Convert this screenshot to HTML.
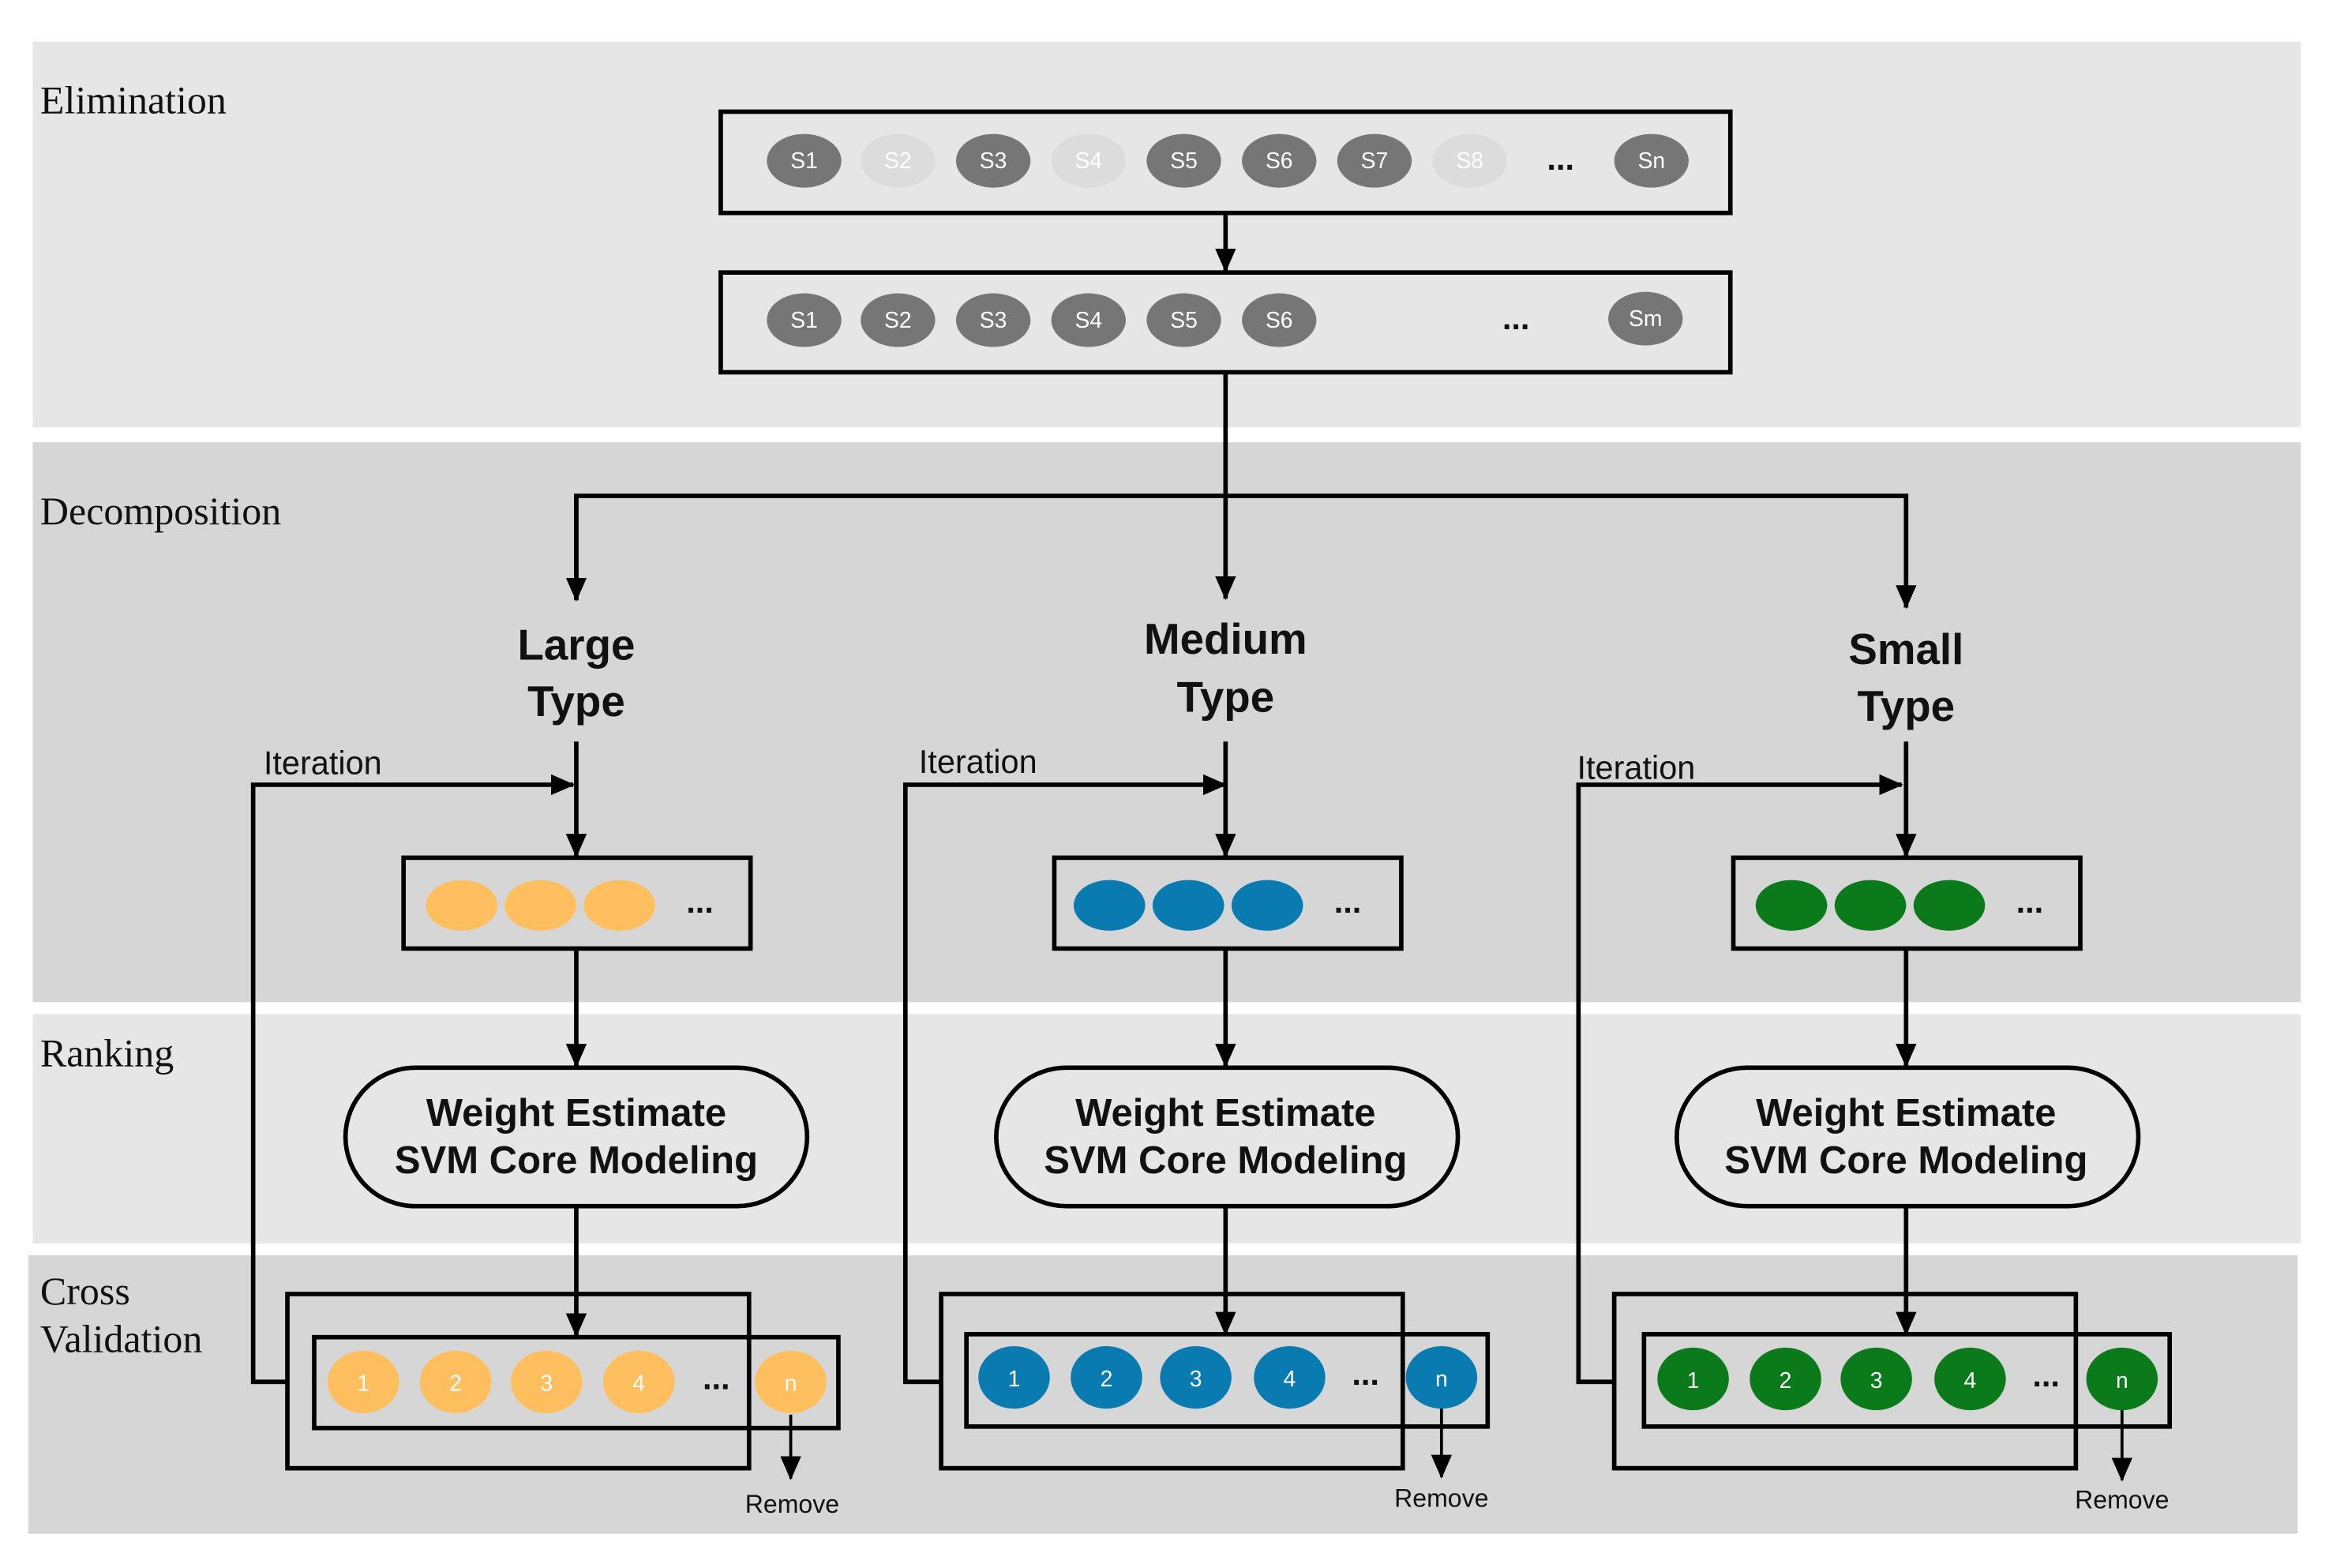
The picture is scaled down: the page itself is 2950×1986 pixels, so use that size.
<!DOCTYPE html>
<html><head><meta charset="utf-8"><style>
html,body{margin:0;padding:0;background:#fff;width:2950px;height:1986px;overflow:hidden}
svg{display:block}
.lab{font-family:"Liberation Serif",serif;font-size:26.5px;fill:#111}
.b{font-family:"Liberation Sans",sans-serif;font-weight:bold;fill:#111;text-anchor:middle}
.s{font-family:"Liberation Sans",sans-serif;fill:#111}
.pt{font-family:"Liberation Sans",sans-serif;font-size:15px;text-anchor:middle;fill:#fff}
</style></head><body>
<svg width="2950" height="1986" viewBox="0 0 1564 1053" preserveAspectRatio="none">
<defs><marker id="a" markerWidth="10" markerHeight="10" refX="9" refY="5" orient="auto" markerUnits="userSpaceOnUse" viewBox="0 0 10 10"><path d="M0,0 L10,5 L0,10 z" fill="#000"/></marker>
<marker id="A" markerWidth="16" markerHeight="16" refX="15" refY="8" orient="auto" markerUnits="userSpaceOnUse" viewBox="0 0 16 16"><path d="M0,1 L16,8 L0,15 z" fill="#000"/></marker></defs>
<rect x="22" y="28" width="1523" height="259" fill="#e6e6e6"/>
<rect x="22" y="297" width="1523" height="376" fill="#d6d6d6"/>
<rect x="22" y="681" width="1523" height="154" fill="#e6e6e6"/>
<rect x="19" y="843" width="1524" height="187" fill="#d6d6d6"/>
<text class="lab" x="27" y="76">Elimination</text>
<text class="lab" x="27" y="352">Decomposition</text>
<text class="lab" x="27" y="716">Ranking</text>
<text class="lab" x="27" y="876">Cross</text>
<text class="lab" x="27" y="908">Validation</text>
<g stroke="#000" stroke-width="3" fill="none">
<rect x="484" y="75" width="678" height="68"/>
<rect x="484" y="183" width="678" height="67"/>
<line x1="823" y1="143" x2="823" y2="182" marker-end="url(#A)"/>
<polyline points="823,250 823,333"/>
<polyline points="387,403 387,333 1280,333 1280,408" marker-end="url(#A)"/>
<line x1="387" y1="333" x2="387" y2="403" marker-end="url(#A)"/>
<line x1="823" y1="333" x2="823" y2="402" marker-end="url(#A)"/>
</g>
<g id="top">
<ellipse cx="540" cy="108" rx="25" ry="18" fill="#767676"/><text class="pt" x="540" y="113">S1</text>
<ellipse cx="603" cy="108" rx="25" ry="18" fill="#dcdcdc"/><text class="pt" x="603" y="113">S2</text>
<ellipse cx="667" cy="108" rx="25" ry="18" fill="#767676"/><text class="pt" x="667" y="113">S3</text>
<ellipse cx="731" cy="108" rx="25" ry="18" fill="#dcdcdc"/><text class="pt" x="731" y="113">S4</text>
<ellipse cx="795" cy="108" rx="25" ry="18" fill="#767676"/><text class="pt" x="795" y="113">S5</text>
<ellipse cx="859" cy="108" rx="25" ry="18" fill="#767676"/><text class="pt" x="859" y="113">S6</text>
<ellipse cx="923" cy="108" rx="25" ry="18" fill="#767676"/><text class="pt" x="923" y="113">S7</text>
<ellipse cx="987" cy="108" rx="25" ry="18" fill="#dcdcdc"/><text class="pt" x="987" y="113">S8</text>
<text class="b" x="1048" y="114" font-size="22">...</text>
<ellipse cx="1109" cy="108" rx="25" ry="18" fill="#767676"/><text class="pt" x="1109" y="113">Sn</text>
<ellipse cx="540" cy="215" rx="25" ry="18" fill="#767676"/><text class="pt" x="540" y="220">S1</text>
<ellipse cx="603" cy="215" rx="25" ry="18" fill="#767676"/><text class="pt" x="603" y="220">S2</text>
<ellipse cx="667" cy="215" rx="25" ry="18" fill="#767676"/><text class="pt" x="667" y="220">S3</text>
<ellipse cx="731" cy="215" rx="25" ry="18" fill="#767676"/><text class="pt" x="731" y="220">S4</text>
<ellipse cx="795" cy="215" rx="25" ry="18" fill="#767676"/><text class="pt" x="795" y="220">S5</text>
<ellipse cx="859" cy="215" rx="25" ry="18" fill="#767676"/><text class="pt" x="859" y="220">S6</text>
<text class="b" x="1018" y="221" font-size="22">...</text>
<ellipse cx="1105" cy="214" rx="25" ry="18" fill="#767676"/><text class="pt" x="1105" y="219">Sm</text>
</g>

<text class="b" x="387" y="443" font-size="29">Large</text>
<text class="b" x="387" y="481" font-size="29">Type</text>
<text class="b" x="823" y="439" font-size="29">Medium</text>
<text class="b" x="823" y="478" font-size="29">Type</text>
<text class="b" x="1280" y="446" font-size="29">Small</text>
<text class="b" x="1280" y="484" font-size="29">Type</text>

<g stroke="#000" stroke-width="3" fill="none">
<line x1="387" y1="498" x2="387" y2="575" marker-end="url(#A)"/>
<rect x="271" y="576" width="233" height="61"/>
<line x1="387" y1="637" x2="387" y2="716" marker-end="url(#A)"/>
<rect x="232" y="717" width="310" height="93" rx="47" ry="47"/>
<line x1="387" y1="810" x2="387" y2="897" marker-end="url(#A)"/>
<rect x="193" y="869" width="310" height="117"/>
<rect x="211" y="898" width="352" height="61"/>
<polyline points="193,928 170,928 170,527 385,527" marker-end="url(#A)"/>
<line x1="531" y1="950" x2="531" y2="993" stroke-width="2" marker-end="url(#A)"/>
<line x1="823" y1="498" x2="823" y2="575" marker-end="url(#A)"/>
<rect x="708" y="576" width="233" height="61"/>
<line x1="823" y1="637" x2="823" y2="716" marker-end="url(#A)"/>
<rect x="669" y="717" width="310" height="93" rx="47" ry="47"/>
<line x1="823" y1="810" x2="823" y2="896" marker-end="url(#A)"/>
<rect x="632" y="869" width="310" height="117"/>
<rect x="649" y="896" width="350" height="62"/>
<polyline points="632,928 608,928 608,527 823,527" marker-end="url(#A)"/>
<line x1="968" y1="945" x2="968" y2="992" stroke-width="2" marker-end="url(#A)"/>
<line x1="1280" y1="498" x2="1280" y2="575" marker-end="url(#A)"/>
<rect x="1164" y="576" width="233" height="61"/>
<line x1="1280" y1="637" x2="1280" y2="716" marker-end="url(#A)"/>
<rect x="1126" y="717" width="310" height="93" rx="47" ry="47"/>
<line x1="1280" y1="810" x2="1280" y2="896" marker-end="url(#A)"/>
<rect x="1084" y="869" width="310" height="117"/>
<rect x="1104" y="896" width="353" height="62"/>
<polyline points="1084,928 1060,928 1060,527 1277,527" marker-end="url(#A)"/>
<line x1="1425" y1="945" x2="1425" y2="994" stroke-width="2" marker-end="url(#A)"/>
</g>

<g class="s" font-size="22">
<text x="177" y="520">Iteration</text>
<text x="617" y="519">Iteration</text>
<text x="1059" y="523">Iteration</text>
</g>
<g class="s" font-size="17" text-anchor="middle">
<text x="532" y="1016">Remove</text>
<text x="968" y="1012">Remove</text>
<text x="1425" y="1013">Remove</text>
</g>

<g class="b" font-size="26">
<text x="387" y="756">Weight Estimate</text><text x="387" y="788">SVM Core Modeling</text>
<text x="823" y="756">Weight Estimate</text><text x="823" y="788">SVM Core Modeling</text>
<text x="1280" y="756">Weight Estimate</text><text x="1280" y="788">SVM Core Modeling</text>
</g>

<g fill="#ffbf5f"><ellipse cx="310" cy="608" rx="24" ry="17"/><ellipse cx="363" cy="608" rx="24" ry="17"/><ellipse cx="416" cy="608" rx="24" ry="17"/></g>
<g fill="#0a7bb0"><ellipse cx="745" cy="608" rx="24" ry="17"/><ellipse cx="798" cy="608" rx="24" ry="17"/><ellipse cx="851" cy="608" rx="24" ry="17"/></g>
<g fill="#0b7a1a"><ellipse cx="1203" cy="608" rx="24" ry="17"/><ellipse cx="1256" cy="608" rx="24" ry="17"/><ellipse cx="1309" cy="608" rx="24" ry="17"/></g>
<g class="b" font-size="22"><text x="470" y="613">...</text><text x="905" y="613">...</text><text x="1363" y="613">...</text></g>

<g fill="#ffbf5f"><ellipse cx="244" cy="928" rx="24" ry="21"/><ellipse cx="306" cy="928" rx="24" ry="21"/><ellipse cx="367" cy="928" rx="24" ry="21"/><ellipse cx="429" cy="928" rx="24" ry="21"/><ellipse cx="531" cy="928" rx="24" ry="21"/></g>
<g fill="#0a7bb0"><ellipse cx="681" cy="925" rx="24" ry="21"/><ellipse cx="743" cy="925" rx="24" ry="21"/><ellipse cx="803" cy="925" rx="24" ry="21"/><ellipse cx="866" cy="925" rx="24" ry="21"/><ellipse cx="968" cy="925" rx="24" ry="21"/></g>
<g fill="#0b7a1a"><ellipse cx="1137" cy="926" rx="24" ry="21"/><ellipse cx="1199" cy="926" rx="24" ry="21"/><ellipse cx="1260" cy="926" rx="24" ry="21"/><ellipse cx="1323" cy="926" rx="24" ry="21"/><ellipse cx="1425" cy="926" rx="24" ry="21"/></g>
<g class="pt">
<text x="244" y="934">1</text><text x="306" y="934">2</text><text x="367" y="934">3</text><text x="429" y="934">4</text><text x="531" y="934">n</text>
<text x="681" y="931">1</text><text x="743" y="931">2</text><text x="803" y="931">3</text><text x="866" y="931">4</text><text x="968" y="931">n</text>
<text x="1137" y="932">1</text><text x="1199" y="932">2</text><text x="1260" y="932">3</text><text x="1323" y="932">4</text><text x="1425" y="932">n</text>
</g>
<g class="b" font-size="22"><text x="481" y="933">...</text><text x="917" y="930">...</text><text x="1374" y="931">...</text></g>
</svg>
</body></html>
